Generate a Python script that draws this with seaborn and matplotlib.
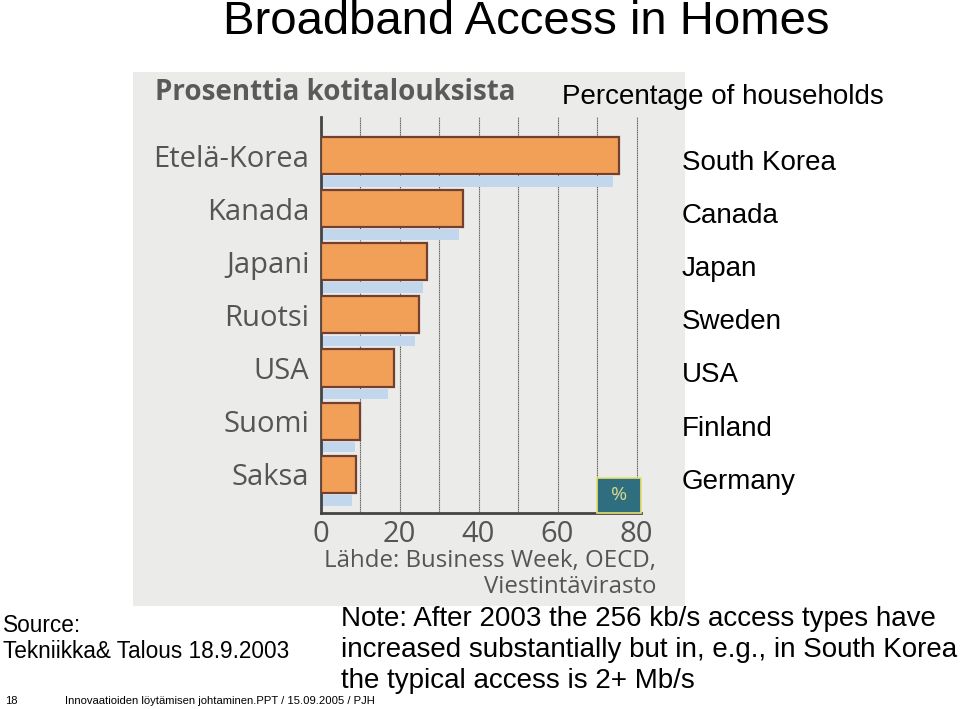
import numpy as np
import pandas as pd
import matplotlib.pyplot as plt
import matplotlib.patches as mpatches
import matplotlib.transforms as mtransforms
import seaborn as sns

countries_fi = ['Etelä-Korea', 'Kanada', 'Japani', 'Ruotsi', 'USA', 'Suomi', 'Saksa']
countries_en = ['South Korea', 'Canada', 'Japan', 'Sweden', 'USA', 'Finland', 'Germany']
share_2003 = [75.5, 36, 27, 25, 18.5, 10, 9]
share_prev = [74, 35, 26, 24, 17, 8.7, 8]
x_ticks = [0, 20, 40, 60, 80]

df = pd.DataFrame({'maa': countries_fi, 'osuus': share_2003, 'edell': share_prev})

sns.set_style('white')
plt.rcParams['font.family'] = ['Liberation Sans', 'DejaVu Sans']
plt.rcParams['text.color'] = 'black'
scan_font = ['Open Sans', 'DejaVu Sans']

W, H = 960, 709
fig = plt.figure(figsize=(W / 100, H / 100), dpi=100)

def fx(x):
    return x / W

def fy(y):
    return 1 - y / H

# scanned newspaper clipping background
paper = mpatches.Rectangle((fx(133), fy(606)), fx(685) - fx(133), fy(72) - fy(606),
                           transform=fig.transFigure, facecolor='#ebebea',
                           edgecolor='none', zorder=-5)
fig.patches.append(paper)

ax = fig.add_axes([fx(320.5), fy(513), fx(640.5) - fx(320.5), fy(117) - fy(513)])
ax.set_facecolor('none')

sns.barplot(data=df, x='osuus', y='maa', orient='h', ax=ax, width=0.7,
            color='#f2a058', edgecolor='#73402f', linewidth=1.6, saturation=1,
            zorder=3)
ax.barh(np.arange(len(df)) + 0.49, df['edell'], height=0.2, color='#c2d7ec',
        edgecolor='none', zorder=2)

for g in range(10, 90, 10):
    ax.axvline(g, color='#555555', lw=0.8, ls=(0, (1, 0.6)), zorder=1)

ax.set_xlim(0, 81)
ax.set_ylim(6.73, -0.725)
ax.set_xticks(x_ticks)
ax.set_xticklabels([str(t) for t in x_ticks], fontsize=21, color='#555555',
                   family=scan_font)
ax.tick_params(axis='x', length=0, pad=5)
ax.tick_params(axis='y', length=0, pad=8)
ax.set_yticks(range(len(df)))
ax.set_yticklabels(countries_fi, fontsize=21, color='#555555', family=scan_font)
ax.set_xlabel('')
ax.set_ylabel('')
for s in ['top', 'right']:
    ax.spines[s].set_visible(False)
for s in ['left', 'bottom']:
    ax.spines[s].set_color('#444444')
    ax.spines[s].set_linewidth(2)

# percent box
ax.add_patch(mpatches.Rectangle((70, 6.07), 11, 0.66, facecolor='#2e6e7e',
                                edgecolor='#e8e070', lw=1.2, zorder=4, clip_on=False))
ax.text(75.5, 6.4, '%', ha='center', va='center', fontsize=14,
        color='#d8d890', zorder=5, family=scan_font)

# English names on the right
trans = mtransforms.blended_transform_factory(fig.transFigure, ax.transData)
for i, name in enumerate(countries_en):
    ax.text(fx(682), i + 0.14, name, transform=trans, ha='left', va='center',
            fontsize=20, color='black')

fig.text(fx(526), fy(22), 'Broadband Access in Homes', ha='center', va='center',
         fontsize=34)
fig.text(fx(155), fy(92), 'Prosenttia kotitalouksista', ha='left', va='center',
         fontsize=20, fontweight='bold', color='#5a5a5a', family=scan_font)
fig.text(fx(562), fy(97), 'Percentage of households', ha='left', va='center',
         fontsize=20)
fig.text(fx(656), fy(561), 'Lähde: Business Week, OECD,', ha='right', va='center',
         fontsize=17.3, color='#555555', family=scan_font)
fig.text(fx(657), fy(587), 'Viestintävirasto', ha='right', va='center',
         fontsize=17.3, color='#555555', family=scan_font)

fig.text(fx(3), fy(625), 'Source:', ha='left', va='center', fontsize=16.3)
fig.text(fx(3), fy(651), 'Tekniikka& Talous 18.9.2003', ha='left', va='center',
         fontsize=16.3)
note = ['Note: After 2003 the 256 kb/s access types have',
        'increased substantially but in, e.g., in South Korea',
        'the typical access is 2+ Mb/s']
for k, line in enumerate(note):
    fig.text(fx(341), fy(619 + 31 * k), line, ha='left', va='center', fontsize=20)

fig.text(fx(5), fy(701), '18', ha='left', va='center', fontsize=8)
fig.text(fx(65), fy(701), 'Innovaatioiden löytämisen johtaminen.PPT / 15.09.2005 / PJH',
         ha='left', va='center', fontsize=8.1)

fig.savefig('out.png', dpi=100)
